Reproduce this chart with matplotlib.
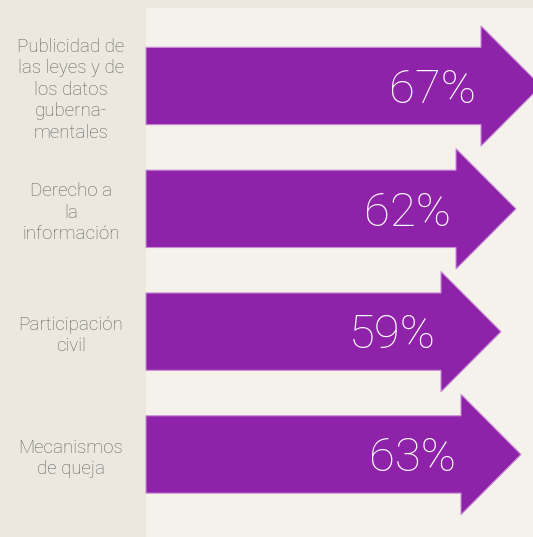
import matplotlib
matplotlib.use("Agg")
import matplotlib.pyplot as plt
from matplotlib.patches import FancyArrow

categories = [
    "Publicidad de\nlas leyes y de\nlos datos\nguberna-\nmentales",
    "Derecho a\nla\ninformación",
    "Participación\ncivil",
    "Mecanismos\nde queja",
]
values = [67, 62, 59, 63]
value_labels = ["67%", "62%", "59%", "63%"]

W, H = 533, 537
fig = plt.figure(figsize=(W / 100, H / 100), dpi=100)
fig.patch.set_facecolor("#ece8e0")

ax = fig.add_axes([146 / W, 0, 1 - 146 / W, (H - 8) / H])
ax.set_facecolor("#f5f2ec")
for s in ax.spines.values():
    s.set_visible(False)
ax.set_xticks([])
ax.set_yticks([])
px_per_unit = 5.0
ax.set_xlim(0, (W - 146) / px_per_unit)
ax.set_ylim(3.672, -0.635)

purple = "#8e22a9"
head_len = 60 / px_per_unit
for i, (v, lab) in enumerate(zip(values, value_labels)):
    arr = FancyArrow(0, i, v, 0, width=0.63, head_width=0.98,
                     head_length=head_len, length_includes_head=False,
                     facecolor=purple, edgecolor="#c98fd6", linewidth=0.8,
                     clip_on=False, zorder=3)
    ax.add_patch(arr)
    ax.text(v - 1.0, i + 0.03, lab, color="white", fontsize=34,
            family="Roboto", fontweight="light", ha="right", va="center", zorder=4)

for i, c in enumerate(categories):
    yfig = ax.transData.transform((0, i))[1]
    fig.text(71 / W, (yfig - 4) / H, c, ha="center", va="center", color="#606060",
             fontsize=13.5, family="Roboto", fontweight="light", linespacing=1.25)

fig.savefig("out.png", dpi=100, facecolor=fig.get_facecolor())
